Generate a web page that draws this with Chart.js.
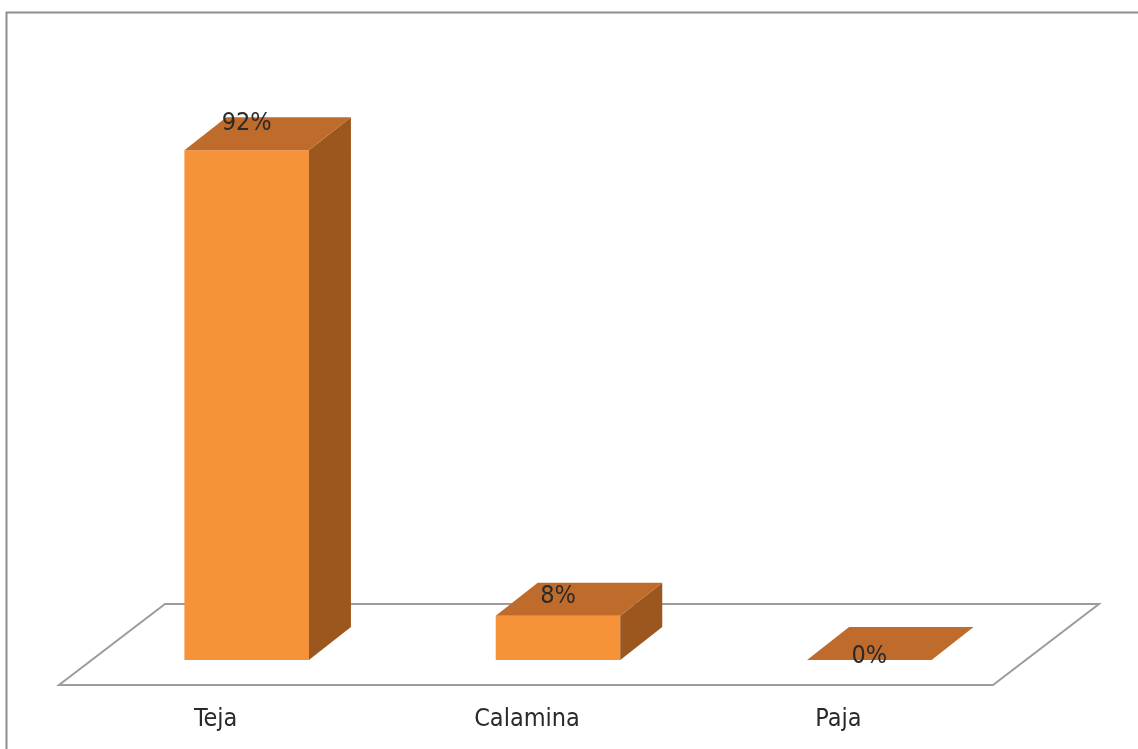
<!DOCTYPE html>
<html>
<head>
<meta charset="utf-8">
<script src="https://cdn.jsdelivr.net/npm/chart.js@4/dist/chart.umd.min.js"></script>
<style>
  html, body { margin: 0; padding: 0; background: #ffffff; }
  #wrap { width: 1138px; height: 749px; }
</style>
</head>
<body>
<div id="wrap"><canvas id="c" width="1138" height="749"></canvas></div>
<script>
// ---- data ----
const categories = ['Teja', 'Calamina', 'Paja'];
const percentValues = [92, 8, 0];
const valueLabels = ['92%', '8%', '0%'];

// ---- style ----
const FONT = '"Liberation Sans Narrow", "Arial Narrow", "DejaVu Sans Condensed", sans-serif';
const FRONT = '#F69238';
const TOP = '#BF6B2B';
const SIDE = '#9C571F';
const DEPTH = { dx: 42, dy: -33 };
const labelLift = [27, 19, 4];

const threeD = {
  id: 'threeD',
  beforeDraw(chart) {
    const ctx = chart.ctx;
    ctx.save();
    ctx.strokeStyle = '#8E8E8E';
    ctx.lineWidth = 2;
    ctx.beginPath();
    ctx.moveTo(6.5, 749);
    ctx.lineTo(6.5, 12.5);
    ctx.lineTo(1138, 12.5);
    ctx.stroke();
    ctx.restore();
  },
  beforeDatasetsDraw(chart) {
    const ctx = chart.ctx;
    const a = chart.chartArea;
    const base = chart.scales.y.getPixelForValue(0);
    // floor parallelogram
    const fy = base + 25, by = base - 56;
    ctx.save();
    ctx.beginPath();
    ctx.moveTo(a.left - 32, fy);
    ctx.lineTo(a.right - 32, fy);
    ctx.lineTo(a.right + 74, by);
    ctx.lineTo(a.left + 74, by);
    ctx.closePath();
    ctx.fillStyle = '#ffffff';
    ctx.fill();
    ctx.strokeStyle = '#9C9C9C';
    ctx.lineWidth = 2;
    ctx.stroke();
    ctx.restore();
  },
  afterDatasetsDraw(chart) {
    const ctx = chart.ctx;
    const meta = chart.getDatasetMeta(0);
    ctx.save();
    meta.data.forEach((bar, i) => {
      const p = bar.getProps(['x', 'y', 'base', 'width'], true);
      const l = p.x - p.width / 2, r = p.x + p.width / 2;
      const t = Math.min(p.y, p.base), b = p.base;
      // side face
      if (b - t > 0.5) {
        ctx.beginPath();
        ctx.moveTo(r, t);
        ctx.lineTo(r + DEPTH.dx, t + DEPTH.dy);
        ctx.lineTo(r + DEPTH.dx, b + DEPTH.dy);
        ctx.lineTo(r, b);
        ctx.closePath();
        ctx.fillStyle = SIDE;
        ctx.fill();
      }
      // top face
      ctx.beginPath();
      ctx.moveTo(l, t);
      ctx.lineTo(r, t);
      ctx.lineTo(r + DEPTH.dx, t + DEPTH.dy);
      ctx.lineTo(l + DEPTH.dx, t + DEPTH.dy);
      ctx.closePath();
      ctx.fillStyle = TOP;
      ctx.fill();
    });
    // value labels
    ctx.fillStyle = '#2a2a2a';
    ctx.font = '25px ' + FONT;
    ctx.textAlign = 'center';
    ctx.textBaseline = 'middle';
    meta.data.forEach((bar, i) => {
      ctx.fillText(valueLabels[i], bar.x, bar.y - labelLift[i]);
    });
    ctx.restore();
  }
};

new Chart(document.getElementById('c'), {
  type: 'bar',
  data: {
    labels: categories,
    datasets: [{
      data: percentValues,
      backgroundColor: FRONT,
      borderWidth: 0,
      categoryPercentage: 1,
      barPercentage: 0.4
    }]
  },
  options: {
    responsive: false,
    animation: false,
    events: [],
    layout: { padding: { top: 106, left: 91, right: 113, bottom: 0 } },
    plugins: { legend: { display: false }, tooltip: { enabled: false } },
    scales: {
      y: { display: false, min: 0, max: 100 },
      x: {
        grid: { display: false, drawTicks: false },
        border: { display: false },
        ticks: {
          color: '#2a2a2a',
          font: { family: FONT, size: 25 },
          padding: 44,
          labelOffset: -31,
          maxRotation: 0
        },
        afterFit(scale) { scale.height = 89; }
      }
    }
  },
  plugins: [threeD]
});
</script>
</body>
</html>
